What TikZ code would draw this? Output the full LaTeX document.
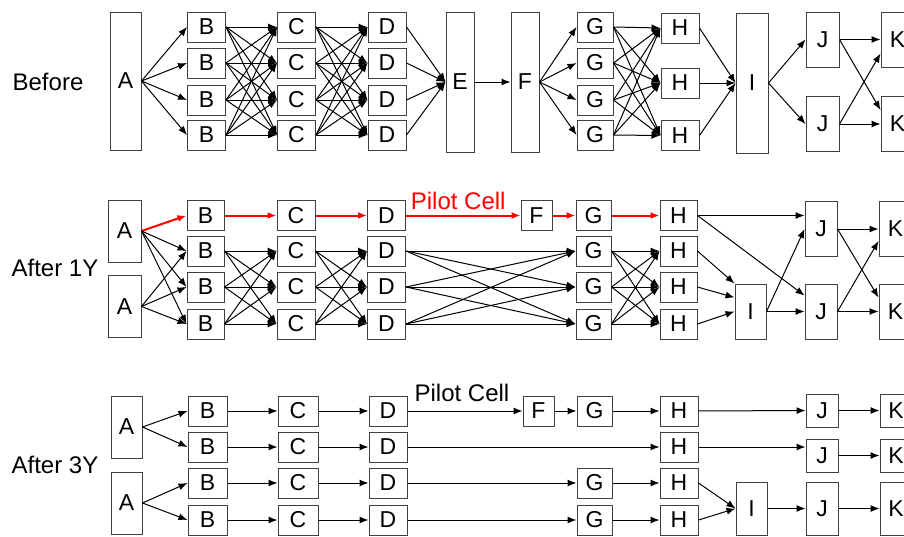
\documentclass[tikz,border=0pt]{standalone}
\usepackage{fontspec}
\setmainfont{Liberation Sans}
\usetikzlibrary{arrows.meta}

\begin{document}
\begin{tikzpicture}[
    x=0.5pt, y=-0.5pt,
    >={Latex[length=4.5pt, width=3.5pt]},
    cell/.style={draw=black!75, line width=0.5pt, minimum width=19pt, minimum height=15pt,
                 inner sep=0pt, font=\fontsize{11.5}{12}\selectfont},
    tallcell/.style={cell, minimum width=15.5pt, minimum height=70pt},
    midcell/.style={cell, minimum width=16.5pt, minimum height=27.5pt},
    smallcell/.style={cell, minimum width=15.5pt, minimum height=15pt},
    arr/.style={->, line width=0.5pt},
    pilot/.style={->, red, line width=1pt},
    rowlbl/.style={font=\fontsize{12}{13}\selectfont},
    pilotlbl/.style={font=\fontsize{12}{13}\selectfont, inner sep=0pt, above=2.5pt},
]
\useasboundingbox (0,0) rectangle (904,536);
\clip (0,0) rectangle (904,536);
% ------------------------------------------------ before
\node[rowlbl] (lblbefore) at (48,82) {Before};
\node[tallcell, minimum height=69pt] (a0) at (125.5,81) {A};
\foreach \i/\y in {1/27, 2/63, 3/100, 4/135} {
  \node[cell] (b0\i) at (206.5,\y) {B};
  \node[cell] (c0\i) at (296.5,\y) {C};
  \node[cell] (d0\i) at (387,\y) {D};
  \node[cell, minimum width=18pt] (g0\i) at (595,\y) {G};
}
\node[tallcell, minimum width=14pt] (e0) at (460,82) {E};
\node[tallcell, minimum width=14pt] (f0) at (525,82) {F};
\foreach \i/\y in {1/28, 2/83, 3/135.5}
  \node[cell] (h0\i) at (680,\y) {H};
\node[tallcell, minimum width=16pt] (i0) at (752,83) {I};
\node[midcell] (j01) at (822.5,39.5) {J};
\node[midcell] (j02) at (822.5,124) {J};
\node[midcell] (k01) at (897.5,39.5) {K};
\node[midcell] (k02) at (897.5,124) {K};
\foreach \i in {1,...,4} {
  \draw[arr] (a0.east) -- (b0\i.west);
  \draw[arr] (d0\i.east) -- (e0.west);
  \draw[arr] (f0.east) -- (g0\i.west);
  \foreach \j in {1,...,4} {
    \draw[arr] (b0\i.east) -- (c0\j.west);
    \draw[arr] (c0\i.east) -- (d0\j.west);
  }
  \foreach \j in {1,2,3}
    \draw[arr] (g0\i.east) -- (h0\j.west);
}
\draw[arr] (e0) -- (f0);
\foreach \j in {1,2,3}
  \draw[arr] (h0\j.east) -- (i0.west);
\foreach \k in {1,2}
  \draw[arr] (i0.east) -- (j0\k.west);
\draw[arr] (j01) -- (k01);
\draw[arr] (j02) -- (k02);
\draw[arr] (j01.east) -- ([yshift=7pt]k02.west);
\draw[arr] (j02.east) -- ([yshift=-7pt]k01.west);
% ------------------------------------------------ after 1Y
\node[rowlbl] (lbl1y) at (55,268) {After 1Y};
\node[cell, minimum width=16.5pt, minimum height=31pt] (a11) at (124.5,231) {A};
\node[cell, minimum width=16.5pt, minimum height=31pt] (a12) at (124.5,306.5) {A};
\foreach \i/\y in {1/215.5, 2/251, 3/287, 4/324} {
  \node[cell, minimum width=18.5pt] (b1\i) at (205.5,\y) {B};
  \node[cell] (c1\i) at (296,\y) {C};
  \node[cell] (d1\i) at (386.5,\y) {D};
  \node[cell, minimum width=17.5pt] (g1\i) at (593.5,\y) {G};
  \node[cell, minimum width=18.5pt] (h1\i) at (678.5,\y) {H};
}
\node[smallcell] (f1) at (536.5,215.5) {F};
\node[cell, minimum width=15.5pt, minimum height=27.5pt] (i1) at (750.5,311.5) {I};
\node[midcell, minimum width=16pt] (j11) at (821,229) {J};
\node[midcell, minimum width=16pt] (j12) at (821,311.5) {J};
\node[midcell] (k11) at (895.5,229) {K};
\node[midcell] (k12) at (895.5,311.5) {K};
% the pilot line
\draw[pilot] (a11.east) -- (b11.west);
\draw[pilot] (b11) -- (c11);
\draw[pilot] (c11) -- (d11);
\draw[pilot] (d11) -- node[pilotlbl, xshift=-2.5pt, text=red] {Pilot Cell} (f1);
\draw[pilot] (f1) -- (g11);
\draw[pilot] (g11) -- (h11);
\foreach \i in {2,3,4} {
  \draw[arr] (a11.east) -- (b1\i.west);
  \draw[arr] (a12.east) -- (b1\i.west);
  \foreach \j in {2,3,4} {
    \draw[arr] (b1\i.east) -- (c1\j.west);
    \draw[arr] (c1\i.east) -- (d1\j.west);
    \draw[arr] (d1\i.east) -- (g1\j.west);
    \draw[arr] (g1\i.east) -- (h1\j.west);
  }
}
\draw[arr] (h11.east) -- (h11.east -| j11.west);
\draw[arr] (h11.east) -- ([yshift=8pt]j12.west);
\draw[arr] (h12.east) -- (i1.north west);
\draw[arr] (h13.east) -- ([yshift=7pt]i1.west);
\draw[arr] (h14.east) -- (i1.west);
\draw[arr] (i1.east) -- (j11.west);
\draw[arr] (i1) -- (j12);
\draw[arr] (j11) -- (k11);
\draw[arr] (j12) -- (k12);
\draw[arr] (j11.east) -- ([yshift=7pt]k12.west);
\draw[arr] (j12.east) -- ([yshift=-6pt]k11.west);
% ------------------------------------------------ after 3Y
\node[rowlbl] (lbl3y) at (55,465) {After 3Y};
\node[cell, minimum width=15.5pt, minimum height=31pt] (a31) at (126.5,427) {A};
\node[cell, minimum width=15.5pt, minimum height=31pt] (a32) at (126.5,503) {A};
\foreach \i/\y in {1/411, 2/447, 3/483, 4/520} {
  \node[cell, minimum width=19.5pt] (b3\i) at (207.5,\y) {B};
  \node[cell, minimum width=20pt] (c3\i) at (298,\y) {C};
  \node[cell] (d3\i) at (388,\y) {D};
  \node[cell] (h3\i) at (679,\y) {H};
}
\foreach \i/\y in {1/411, 3/483, 4/520}
  \node[cell, minimum width=17.5pt] (g3\i) at (594.5,\y) {G};
\node[smallcell] (f3) at (538.5,411) {F};
\node[cell, minimum width=15.5pt, minimum height=26.5pt] (i3) at (751.5,508.5) {I};
\node[cell, minimum width=16pt, minimum height=16.5pt] (j31) at (822,410.5) {J};
\node[cell, minimum width=16pt, minimum height=16.5pt] (j32) at (822,455.5) {J};
\node[cell, minimum width=16pt, minimum height=26.5pt] (j33) at (822,508.5) {J};
\node[cell, minimum width=16pt, minimum height=16.5pt] (k31) at (896,410.5) {K};
\node[cell, minimum width=16pt, minimum height=16.5pt] (k32) at (896,455.5) {K};
\node[cell, minimum width=16pt, minimum height=26.5pt] (k33) at (896,508.5) {K};
\draw[arr] (a31.east) -- (b31.west);
\draw[arr] (a31.east) -- (b32.west);
\draw[arr] (a32.east) -- (b33.west);
\draw[arr] (a32.east) -- (b34.west);
\foreach \i in {1,...,4} {
  \draw[arr] (b3\i) -- (c3\i);
  \draw[arr] (c3\i) -- (d3\i);
}
\draw[arr] (d31) -- node[pilotlbl, above=2pt, xshift=-1.5pt] {Pilot Cell} (f3);
\draw[arr] (f3) -- (g31);
\draw[arr] (g31) -- (h31);
\draw[arr] (h31) -- (j31);
\draw[arr] (j31) -- (k31);
\draw[arr] (d32) -- (h32);
\draw[arr] (h32.east) -- (h32.east -| j32.west);
\draw[arr] (j32) -- (k32);
\foreach \i in {3,4} {
  \draw[arr] (d3\i) -- (g3\i);
  \draw[arr] (g3\i) -- (h3\i);
  \draw[arr] (h3\i.east) -- (i3.west);
}
\draw[arr] (i3) -- (j33);
\draw[arr] (j33) -- (k33);
\end{tikzpicture}
\end{document}
